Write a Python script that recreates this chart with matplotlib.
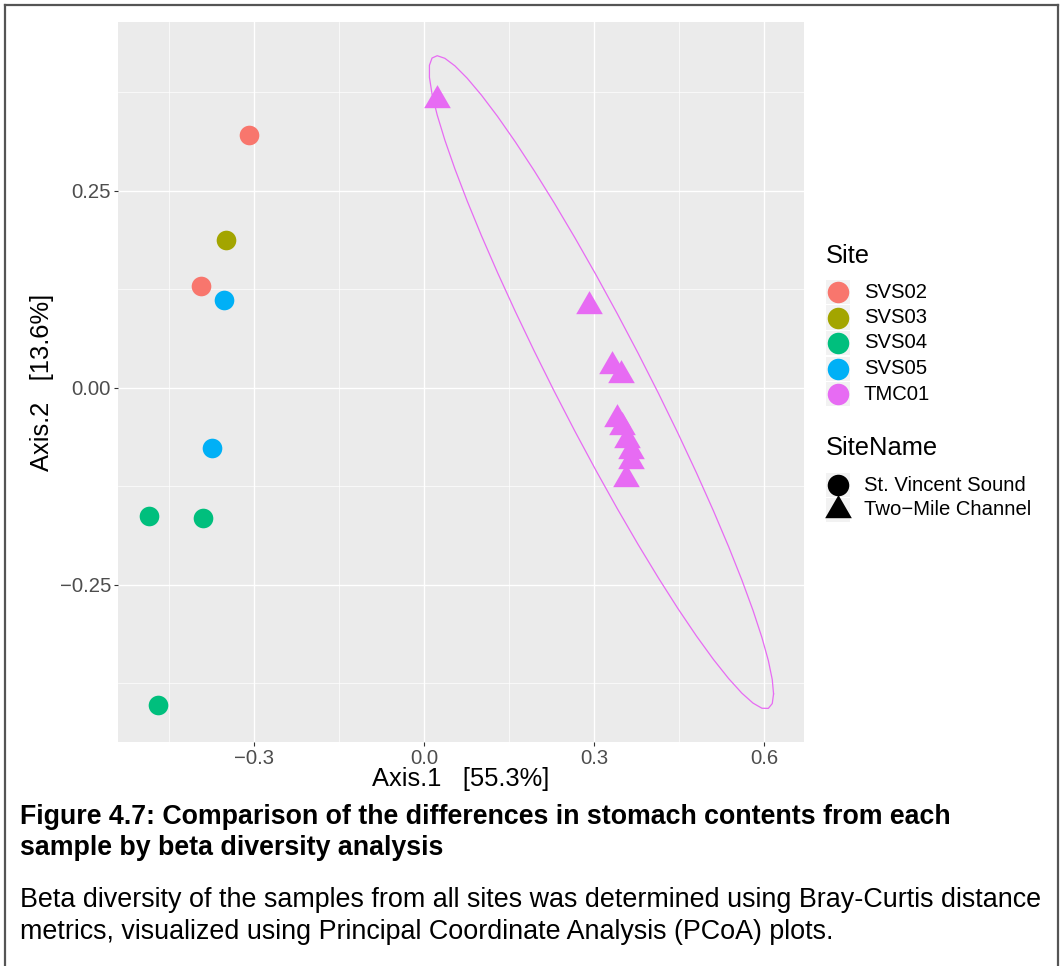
import matplotlib
matplotlib.use('Agg')
import matplotlib.pyplot as plt
import numpy as np
from matplotlib.path import Path
from matplotlib.lines import Line2D
from matplotlib.patches import Rectangle

plt.rcParams['font.family'] = ['Liberation Sans', 'DejaVu Sans']

# ---- data ----
sites = ['SVS02', 'SVS03', 'SVS04', 'SVS05', 'TMC01']
site_colors = ['#F8766D', '#A3A500', '#00BF7D', '#00B0F6', '#E76BF3']
site_names = ['St. Vincent Sound', 'Two\u2212Mile Channel']

axis1 = [-0.309, -0.393, -0.349, -0.485, -0.390, -0.468, -0.3525, -0.373,
         0.023, 0.291, 0.332, 0.347, 0.341, 0.349, 0.358, 0.365, 0.365, 0.356]
axis2 = [0.320, 0.129, 0.187, -0.163, -0.166, -0.403, 0.111, -0.076,
         0.365, 0.104, 0.028, 0.016, -0.040, -0.050, -0.066, -0.080, -0.093, -0.116]
sample_site = ['SVS02', 'SVS02', 'SVS03', 'SVS04', 'SVS04', 'SVS04', 'SVS05', 'SVS05'] + ['TMC01'] * 10

x_ticks = [-0.3, 0.0, 0.3, 0.6]
y_ticks = [-0.25, 0.0, 0.25]

# R style triangle (centred on centroid)
tri = Path([(-1, -0.577), (1, -0.577), (0, 1.155), (-1, -0.577)],
           [Path.MOVETO, Path.LINETO, Path.LINETO, Path.CLOSEPOLY])
shape_of = {'St. Vincent Sound': 'o', 'Two\u2212Mile Channel': tri}

W, H = 1063, 966
fig = plt.figure(figsize=(W / 100, H / 100), dpi=100)
ax = fig.add_axes([118 / W, 1 - 742 / H, (804 - 118) / W, (742 - 22) / H])
ax.set_facecolor('#EBEBEB')
for s in ax.spines.values():
    s.set_visible(False)

ax.set_xlim(-0.5394, 0.670)
ax.set_ylim(-0.4496, 0.464)
ax.set_xticks(x_ticks)
ax.set_xticklabels(['\u22120.3', '0.0', '0.3', '0.6'])
ax.set_yticks(y_ticks)
ax.set_yticklabels(['\u22120.25', '0.00', '0.25'])
ax.set_xticks([-0.45, -0.15, 0.15, 0.45], minor=True)
ax.set_yticks([-0.375, -0.125, 0.125, 0.375], minor=True)
ax.grid(which='major', color='white', lw=1.0)
ax.grid(which='minor', color='white', lw=0.5)
ax.set_axisbelow(True)
ax.tick_params(which='major', length=3, width=0.8, color='#333333',
               labelsize=14.6, labelcolor='#4D4D4D', pad=2)
ax.tick_params(which='minor', length=0)

# ellipse for TMC01 (95% level, F quantile qf(0.95, 2, 9))
ex = np.array([a for a, s in zip(axis1, sample_site) if s == 'TMC01'])
ey = np.array([b for b, s in zip(axis2, sample_site) if s == 'TMC01'])
cov = np.cov(ex, ey)
R = np.linalg.cholesky(cov).T
radius = np.sqrt(2 * 4.256495)
th = np.linspace(0, 2 * np.pi, 52)
circ = np.column_stack([np.cos(th), np.sin(th)])
ell = np.array([ex.mean(), ey.mean()]) + radius * circ @ R
ax.plot(ell[:, 0], ell[:, 1], color=site_colors[4], lw=0.9, zorder=2)

for a, b, s in zip(axis1, axis2, sample_site):
    c = site_colors[sites.index(s)]
    if s == 'TMC01':
        ax.scatter(a, b, marker=tri, s=490, color=c, lw=0, zorder=3)
    else:
        ax.scatter(a, b, marker='o', s=200, color=c, lw=0, zorder=3)

fig.text(461 / W, 1 - 779 / H, 'Axis.1   [55.3%]', ha='center', va='center', fontsize=18.4)
fig.text(42 / W, 1 - 382 / H, 'Axis.2   [13.6%]', ha='center', va='center',
         rotation=90, fontsize=18.4)

# legends
fig.text(826 / W, 1 - 256 / H, 'Site', ha='left', va='center', fontsize=18.4)
for i, (s, c) in enumerate(zip(sites, site_colors)):
    yc = 292 + i * 25.5
    fig.patches.append(Rectangle(((826) / W, 1 - (yc + 12) / H), 24 / W, 24 / H,
                                 transform=fig.transFigure, color='#F2F2F2', lw=0))
    fig.lines.append(Line2D([838 / W], [1 - yc / H], transform=fig.transFigure,
                            marker='o', ms=15.5, color=c, mew=0, ls=''))
    fig.text(864 / W, 1 - yc / H, s, ha='left', va='center', fontsize=14.6)

fig.text(826 / W, 1 - 448 / H, 'SiteName', ha='left', va='center', fontsize=18.4)
for i, n in enumerate(site_names):
    yc = 485 + i * 24.5
    fig.patches.append(Rectangle((826 / W, 1 - (yc + 12) / H), 24 / W, 24 / H,
                                 transform=fig.transFigure, color='#F2F2F2', lw=0))
    m = shape_of[n]
    fig.lines.append(Line2D([838 / W], [1 - yc / H], transform=fig.transFigure,
                            marker=m, ms=15.5 if m == 'o' else 22.2, color='black', mew=0, ls=''))
    fig.text(864 / W, 1 - yc / H, n, ha='left', va='center', fontsize=14.6)

# caption
fig.text(20 / W, 1 - 817 / H, 'Figure 4.7: Comparison of the differences in stomach contents from each',
         ha='left', va='center', fontsize=19.25, fontweight='bold')
fig.text(20 / W, 1 - 848 / H, 'sample by beta diversity analysis',
         ha='left', va='center', fontsize=19.25, fontweight='bold')
fig.text(20 / W, 1 - 900 / H, 'Beta diversity of the samples from all sites was determined using Bray-Curtis distance',
         ha='left', va='center', fontsize=19.4)
fig.text(20 / W, 1 - 932 / H, 'metrics, visualized using Principal Coordinate Analysis (PCoA) plots.',
         ha='left', va='center', fontsize=19.4)

# frame around the figure
for xs, ys in [([5, 5], [966, 5]), ([5, 1058], [5, 5]), ([1058, 1058], [5, 966])]:
    fig.lines.append(Line2D([x / W for x in xs], [1 - y / H for y in ys],
                            transform=fig.transFigure, color='#555555', lw=1.6))

fig.savefig('out.png', dpi=100)
